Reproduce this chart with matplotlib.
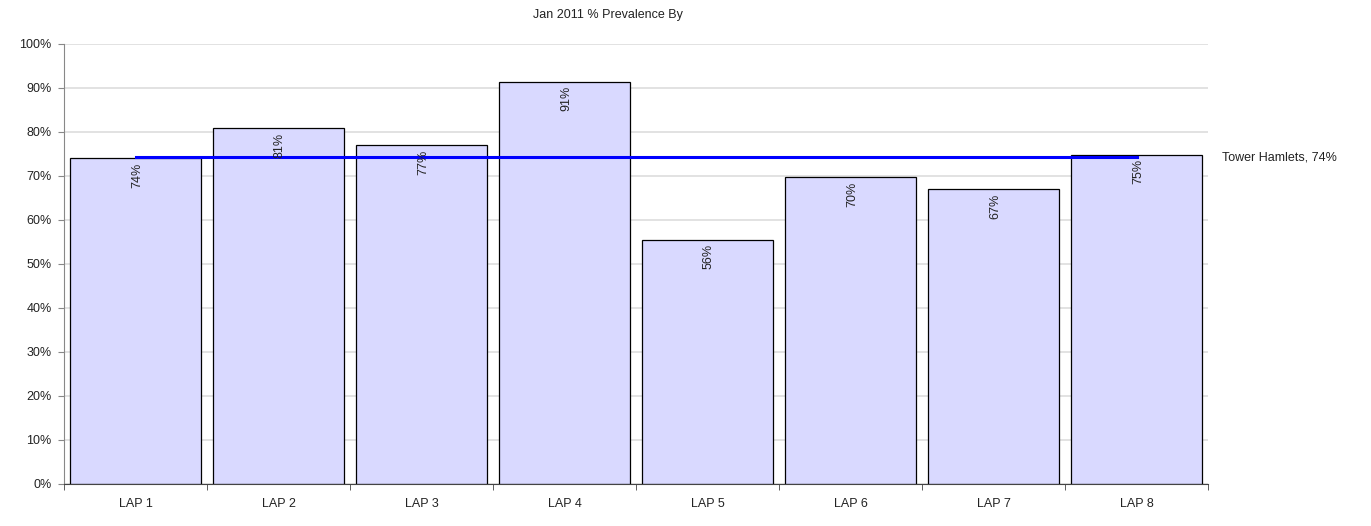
import matplotlib.pyplot as plt
import numpy as np

plt.rcParams['font.family'] = ['Liberation Sans', 'DejaVu Sans']

categories = ['LAP 1', 'LAP 2', 'LAP 3', 'LAP 4', 'LAP 5', 'LAP 6', 'LAP 7', 'LAP 8']
prevalence = [74.1, 80.9, 77.0, 91.4, 55.5, 69.8, 67.0, 74.8]
labels = ['74%', '81%', '77%', '91%', '56%', '70%', '67%', '75%']
borough_name = 'Tower Hamlets'
borough_value = 74.3
borough_label = '74%'

fig = plt.figure(figsize=(13.71, 5.26), dpi=100)
ax = fig.add_axes([64/1371, 1-484/526, (1208-64)/1371, 440/526])

x = np.arange(len(categories))
ax.bar(x, prevalence, width=0.91, color='#d9d9ff', edgecolor='black', linewidth=0.9, zorder=2)

for xi, v, lab in zip(x, prevalence, labels):
    ax.text(xi + 0.01, v - 1.0, lab, rotation=90, ha='center', va='top', fontsize=9, color='#222222', zorder=4)

ax.plot([x[0], x[-1]], [borough_value, borough_value], color='#0000ff', linewidth=2.2, zorder=3)
ax.text(1.012, borough_value / 100, f'{borough_name}, {borough_label}', transform=ax.transAxes,
        ha='left', va='center', fontsize=9, color='#222222')

ax.set_xlim(-0.5, len(categories) - 0.5)
ax.set_ylim(0, 100)
ax.set_yticks(np.arange(0, 101, 10))
ax.set_yticklabels([f'{t}%' for t in range(0, 101, 10)], fontsize=9, color='#222222')
ax.set_xticks(x)
ax.set_xticklabels(categories, fontsize=9, color='#222222')
ax.tick_params(axis='x', length=0, pad=10)
ax.set_xticks(np.arange(-0.5, len(categories) + 0.5, 1), minor=True)
ax.tick_params(axis='x', which='minor', length=4, color='#444444')
ax.tick_params(axis='y', length=4, color='#888888', pad=5)

ax.grid(axis='y', color='#dddddd', linewidth=1.2, zorder=0)
ax.set_axisbelow(True)
for s in ['top', 'right']:
    ax.spines[s].set_visible(False)
ax.spines['left'].set_color('#888888')
ax.spines['bottom'].set_color('#444444')

fig.text(608/1371, 1-15/526, 'Jan 2011 % Prevalence By', ha='center', va='center', fontsize=9, color='#222222')

fig.savefig('out.png', dpi=100)
